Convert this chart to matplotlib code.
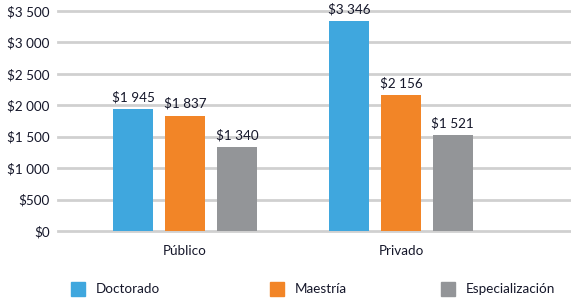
import numpy as np
import matplotlib
matplotlib.use("Agg")
import matplotlib.pyplot as plt
from matplotlib.patches import Rectangle

# data
sectors = ["Público", "Privado"]
levels = ["Doctorado", "Maestría", "Especialización"]
doctorado = [1945, 3346]
maestria = [1837, 2156]
especializacion = [1340, 1521]
y_ticks = [0, 500, 1000, 1500, 2000, 2500, 3000, 3500]

colors = ["#3FA7DE", "#F28527", "#939598"]
series = [doctorado, maestria, especializacion]


def money(v):
    s = f"{int(v):,}".replace(",", " ")
    return "$" + s


plt.rcParams["font.family"] = ["Lato", "DejaVu Sans"]

fig = plt.figure(figsize=(5.71, 2.98), dpi=100)
ax = fig.add_axes([58 / 571, 67 / 298, 1 - 58 / 571, 220 / 298])

x = np.arange(len(sectors))
width = 0.185
offset = 0.24
for i, (vals, c) in enumerate(zip(series, colors)):
    xs = x + (i - 1) * offset
    ax.bar(xs, vals, width=width, color=c, zorder=3)
    for xi, v in zip(xs, vals):
        ax.text(xi, v + 90, money(v), ha="center", va="bottom",
                fontsize=9.7, color="#15172a")

ax.set_xlim(-0.588, 1.787)
ax.set_ylim(0, 3500)
ax.set_yticks(y_ticks)
ax.set_yticklabels([money(v) for v in y_ticks])
ax.set_xticks(x)
ax.set_xticklabels(sectors)
ax.tick_params(axis="both", length=0, labelsize=9.7, colors="#15172a")
ax.tick_params(axis="y", pad=6)
ax.tick_params(axis="x", pad=10)
ax.grid(axis="y", color="#d0d0d0", linewidth=2, zorder=0)
ax.set_axisbelow(True)
for sp in ax.spines.values():
    sp.set_visible(False)
for gl in ax.get_ygridlines():
    gl.set_clip_on(False)

# legend, laid out by hand
leg_x = [71, 270, 441]
for lx, name, c in zip(leg_x, levels, colors):
    fig.patches.append(Rectangle((lx / 571, (298 - 296) / 298), 14 / 571, 14 / 298,
                                 transform=fig.transFigure, color=c))
    fig.text((lx + 25) / 571, (298 - 289) / 298, name, ha="left", va="center",
             fontsize=9.7, color="#15172a")

fig.savefig("out.png", dpi=100)
